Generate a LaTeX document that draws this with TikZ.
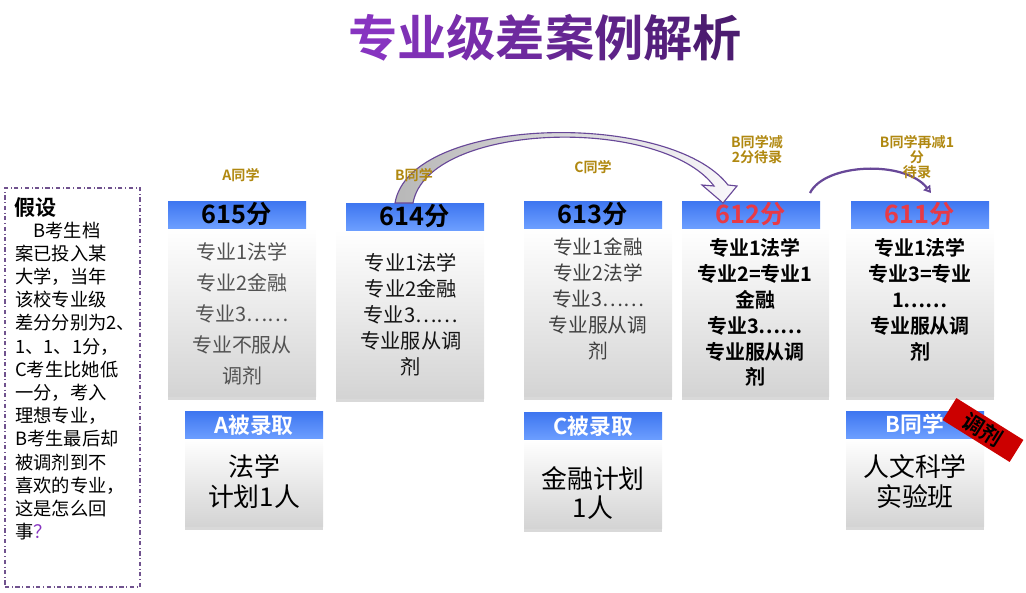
\documentclass[tikz,border=0pt]{standalone}
\usepackage{fontspec}
\newfontfamily\cjk{Noto Sans CJK SC}[BoldFont={Noto Sans CJK SC Bold}]
\usetikzlibrary{positioning,shadows,calc,arrows.meta}

\definecolor{titlea}{RGB}{135,52,192}
\definecolor{titleb}{RGB}{76,28,112}
\definecolor{gold}{RGB}{176,136,16}
\definecolor{hdtop}{RGB}{62,118,240}
\definecolor{hdbot}{RGB}{108,158,255}
\definecolor{scorered}{RGB}{232,58,70}
\definecolor{arrline}{RGB}{104,72,152}
\definecolor{dashpurple}{RGB}{112,82,142}
\definecolor{stampred}{RGB}{204,0,0}

\newcommand{\pxu}{0.025cm}

\begin{document}
\begin{tikzpicture}[
        x=0.025cm, y=-0.025cm,
        score/.style={
            rectangle, top color=hdtop, bottom color=hdbot, inner sep=0pt,
            minimum width=138*\pxu, minimum height=27*\pxu,
            font=\cjk\bfseries\fontsize{18}{20}\selectfont
        },
        admit/.style={score, text=white, font=\cjk\bfseries\fontsize{15.5}{17}\selectfont},
        card/.style={
            rectangle, top color=white, bottom color=black!17, inner sep=0pt,
            drop shadow={opacity=0.3, shadow xshift=0pt, shadow yshift=-2.5pt}
        },
        pick/.style={align=center, inner sep=0pt},
        res/.style={align=center, inner sep=0pt, font=\cjk\fontsize{18.4}{21.3}\selectfont},
        who/.style={align=center, inner sep=0pt, text=gold,
            font=\cjk\bfseries\fontsize{10}{10.7}\selectfont},
        hypbox/.style={draw=dashpurple, dash dot, line width=0.8pt, inner sep=0pt,
            minimum width=135*\pxu, minimum height=399*\pxu},
        stamp/.style={fill=stampred, rotate=-32, inner sep=0pt,
            minimum width=79*\pxu, minimum height=26*\pxu,
            font=\cjk\bfseries\fontsize{15}{15}\selectfont},
        bigarr/.style={draw=arrline, line width=0.8pt, left color=black!28, right color=arrline!4},
        smallarr/.style={draw=arrline, line width=1.6pt, -{Triangle[open, length=5pt, width=6pt]}}
    ]
    \useasboundingbox (0,0) rectangle (1026,592);

    % Title
    \node[font=\cjk\bfseries\fontsize{35}{40}\selectfont] (title) at (545,38)
        {{\color{titlea}专}{\color{titlea!86!titleb}业}{\color{titlea!72!titleb}级}{\color{titlea!58!titleb}差}%
         {\color{titlea!44!titleb}案}{\color{titlea!30!titleb}例}{\color{titlea!16!titleb}解}{\color{titleb}析}};

    % Assumption box
    \node[hypbox] (hyp) at (72.5,387.5) {};
    \node[anchor=west, inner sep=0pt, font=\cjk\bfseries\fontsize{15}{16}\selectfont] (hyptitle) at (14,208) {假设};
    \node[anchor=west, align=left, inner sep=0pt, font=\cjk\fontsize{13}{16.5}\selectfont] (hyptext) at (15,381)
        {　B考生档\\案已投入某\\大学，当年\\该校专业级\\差分分别为2、\\1、1、1分，\\C考生比她低\\一分，考入\\理想专业，\\B考生最后却\\被调剂到不\\喜欢的专业，\\这是怎么回\\事{\color{titlea}？}};

    % Score cards
    \node[card, minimum width=148*\pxu, minimum height=168*\pxu] (c615) at (242,312) {};
    \node[card, minimum width=148*\pxu, minimum height=168*\pxu] (c614) at (410,314) {};
    \node[card, minimum width=148*\pxu, minimum height=168*\pxu] (c613) at (598,312) {};
    \node[card, minimum width=147*\pxu, minimum height=168*\pxu] (c612) at (755.5,312) {};
    \node[card, minimum width=148*\pxu, minimum height=168*\pxu] (c611) at (920,312) {};

    \node[score] (s615) at (237,214.5) {615分};
    \node[score] (s614) at (415,216.5) {614分};
    \node[score] (s613) at (593,214.5) {613分};
    \node[score, text=scorered] (s612) at (751,214.5) {612分};
    \node[score, text=scorered] (s611) at (920,214.5) {611分};

    \node[pick, text=black!68, font=\cjk\fontsize{14.2}{22}\selectfont] (t615) at (242,313.5)
        {专业1法学\\专业2金融\\专业3……\\专业不服从\\调剂};
    \node[pick, text=black!92, font=\cjk\fontsize{14.4}{18.5}\selectfont] (t614) at (411,314.5)
        {专业1法学\\专业2金融\\专业3……\\专业服从调\\剂};
    \node[pick, text=black!75, font=\cjk\fontsize{14}{18.5}\selectfont] (t613) at (598,298.5)
        {专业1金融\\专业2法学\\专业3……\\专业服从调\\剂};
    \node[pick, font=\cjk\bfseries\fontsize{14.2}{18.4}\selectfont] (t612) at (755,312.5)
        {专业1法学\\专业2=专业1\\金融\\专业3……\\专业服从调\\剂};
    \node[pick, font=\cjk\bfseries\fontsize{14.2}{18.4}\selectfont] (t611) at (920,300)
        {专业1法学\\专业3=专业\\1……\\专业服从调\\剂};

    % Arrows: B moves down
    \path[bigarr] (395,203) .. controls (410,115) and (670,110) .. (728,185)
        -- (737,186) -- (723,203) -- (702,185) -- (714,186)
        .. controls (660,115) and (428,122) .. (413,203) -- cycle;
    \coordinate (m1) at (810,193);
    \coordinate (m2) at (931,193);
    \draw[smallarr] (m1) .. controls (825,163) and (905,160) .. (m2);

    % Student labels
    \node[who] (wa) at (241,175) {A同学};
    \node[who] (wb) at (414,175) {B同学};
    \node[who] (wc) at (593,167) {C同学};
    \node[who] (wd) at (757,150) {B同学减\\2分待录};
    \node[who] (we) at (917,157) {B同学再减1\\分\\待录};

    % Results
    \node[card, minimum width=138*\pxu, minimum height=88*\pxu] (ca) at (254,482) {};
    \node[card, minimum width=138*\pxu, minimum height=89*\pxu] (cc) at (593,483.5) {};
    \node[card, minimum width=138*\pxu, minimum height=88*\pxu] (cb) at (915,482) {};

    \node[admit] (ha) at (254,425) {A被录取};
    \node[admit] (hc) at (593,426) {C被录取};
    \node[admit] (hb) at (915,424.5) {B同学};

    \node[res] (ra) at (254,482) {法学\\计划1人};
    \node[res] (rc) at (593,493) {金融计划\\1人};
    \node[res] (rb) at (915,481.5) {人文科学\\实验班};

    \node[stamp] (tj) at (983,430) {调剂};
\end{tikzpicture}
\end{document}
